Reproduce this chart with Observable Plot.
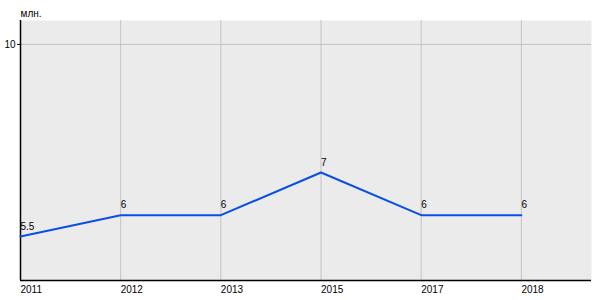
<!DOCTYPE html>
<html>
<head>
<meta charset="utf-8">
<script src="https://cdn.jsdelivr.net/npm/d3@7"></script>
<script src="https://cdn.jsdelivr.net/npm/@observablehq/plot@0.6"></script>
<style>
  html, body { margin: 0; padding: 0; background: #fff; }
</style>
</head>
<body>
<div id="chart"></div>
<script>
const years = ["2011", "2012", "2013", "2015", "2017", "2018"];
const values = [5.5, 6, 6, 7, 6, 6];
const valueLabels = ["5.5", "6", "6", "7", "6", "6"];
const yTicks = [10];
const unitLabel = "млн.";

const data = years.map((y, i) => ({i, year: y, value: values[i], label: valueLabels[i]}));
const idx = years.map((_, i) => i);

const chart = Plot.plot({
  width: 600,
  height: 300,
  marginLeft: 20,
  marginRight: 9,
  marginTop: 20,
  marginBottom: 20,
  style: {fontFamily: "'Liberation Sans', Arial, sans-serif", fontSize: "10px", background: "#fff", color: "#000"},
  x: {type: "linear", domain: [0, 5.7], axis: null},
  y: {domain: [4.47, 10.56], axis: null},
  marks: [
    Plot.frame({fill: "#ebebeb", stroke: null}),
    Plot.ruleX(idx, {stroke: "#c3c3c3", strokeWidth: 1}),
    Plot.ruleY(yTicks, {stroke: "#c3c3c3", strokeWidth: 1}),
    Plot.axisY({ticks: yTicks, tickSize: 3, tickPadding: 2, tickFormat: d => String(d), label: null, stroke: "#000"}),
    Plot.axisX({ticks: idx, tickSize: 0, tickPadding: 5, textAnchor: "start", tickFormat: d => years[d], label: null}),
    Plot.ruleX([0], {stroke: "#000", strokeWidth: 1.5}),
    Plot.ruleY([4.47], {stroke: "#000", strokeWidth: 1.5}),
    Plot.line(data, {x: "i", y: "value", stroke: "#0a4ee6", strokeWidth: 2}),
    Plot.text(data, {x: "i", y: "value", text: "label", textAnchor: "start", dy: -10, fill: "#000"}),
    Plot.text([unitLabel], {frameAnchor: "top-left", textAnchor: "start", dy: -11, fill: "#000"})
  ]
});
document.getElementById("chart").appendChild(chart);
</script>
</body>
</html>
